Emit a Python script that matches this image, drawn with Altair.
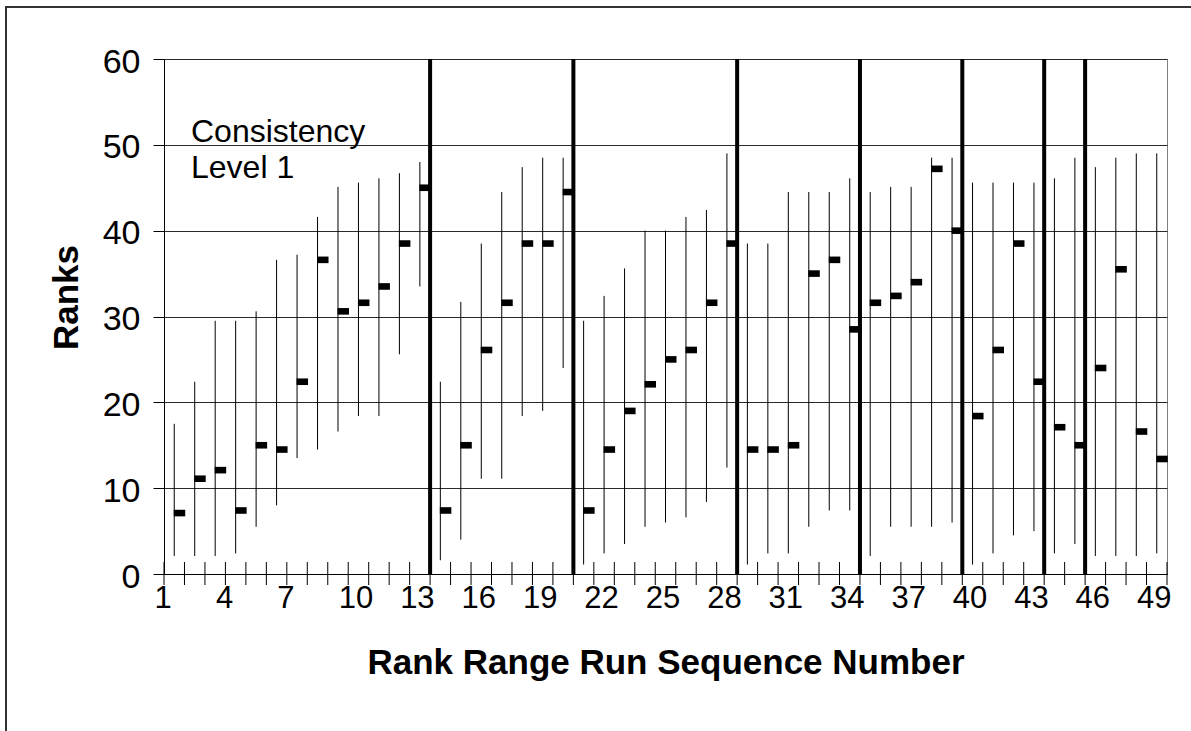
import altair as alt
import pandas as pd

FONT = "Liberation Sans"
PLOT_W = 1003
PLOT_H = 515

# ---- data ----
run_number = list(range(1, 50))
rank_high = [17.5, 22.4, 29.5, 29.5, 30.6, 36.6, 37.2, 41.6, 45.1, 45.6, 46.1, 46.7, 48.0,
             22.4, 31.7, 38.5, 44.5, 47.4, 48.5, 48.5,
             29.5, 32.4, 35.6, 40.0, 40.0, 41.6, 42.4, 49.0,
             38.5, 38.5, 44.5, 44.5, 44.5, 46.1,
             44.5, 45.1, 45.1, 48.5, 48.5,
             45.6, 45.6, 45.6, 45.6,
             46.1, 48.5,
             47.4, 48.5, 49.0, 49.0]
rank_low = [2.1, 2.1, 2.1, 2.4, 5.5, 8.0, 13.5, 14.5, 16.6, 18.4, 18.4, 25.6, 33.5,
            1.6, 4.0, 11.1, 11.1, 18.4, 19.0, 24.0,
            1.1, 2.4, 3.5, 5.5, 6.0, 6.6, 8.4, 12.4,
            1.1, 2.4, 2.4, 5.5, 7.4, 7.4,
            2.1, 5.5, 5.5, 5.5, 6.0,
            1.1, 2.4, 4.5, 5.0,
            2.4, 3.5,
            2.1, 2.1, 2.1, 2.4]
rank_mark = [7.1, 11.1, 12.1, 7.4, 15.0, 14.5, 22.4, 36.6, 30.6, 31.6, 33.5, 38.5, 45.0,
             7.4, 15.0, 26.1, 31.6, 38.5, 38.5, 44.5,
             7.4, 14.5, 19.0, 22.1, 25.0, 26.1, 31.6, 38.5,
             14.5, 14.5, 15.0, 35.0, 36.6, 28.5,
             31.6, 32.4, 34.0, 47.2, 40.0,
             18.4, 26.1, 38.5, 22.4,
             17.1, 15.0,
             24.0, 35.5, 16.6, 13.4]
separators = [13, 20, 28, 34, 39, 43, 45]
x_tick_values = list(range(0, 50))
x_label_text = ["1", "4", "7", "10", "13", "16", "19", "22", "25", "28", "31", "34",
                "37", "40", "43", "46", "49"]
y_tick_values = [0, 10, 20, 30, 40, 50, 60]
note_lines = ["Consistency", "Level 1"]

df = pd.DataFrame({
    "run": run_number,
    "pos": [r - 0.5 for r in run_number],
    "high": rank_high,
    "low": rank_low,
    "mark": rank_mark,
})
sep_df = pd.DataFrame({"sep": separators, "top": [60] * len(separators), "bottom": [0] * len(separators)})
tick_df = pd.DataFrame({"t": x_tick_values})

label_positions = [int(t) - 1 for t in x_label_text]
label_map = "{" + ",".join(f"'{int(t) - 1}':'{t}'" for t in x_label_text) + "}"
label_expr = f"{label_map}[toString(datum.value)] || ''"

x_scale = alt.Scale(domain=[0, 49], nice=False, zero=False)
y_scale = alt.Scale(domain=[0, 60], nice=False, zero=True)

x_axis = alt.Axis(
    values=label_positions, labelExpr=label_expr, labelAlign="left", labelOffset=-10,
    labelFontSize=31, labelPadding=9, labelOverlap=False, labelFlush=False, labelBound=False,
    ticks=False, domainColor="black", grid=False,
    title="Rank Range Run Sequence Number", titleFontSize=35, titleFontWeight="bold",
    titleY=99, titleBaseline="alphabetic", titleColor="black", labelColor="black",
)
y_axis = alt.Axis(
    values=y_tick_values, labelFontSize=34, labelPadding=13, labelOffset=3,
    tickSize=11, tickColor="black", domainColor="black", labelOverlap=False,
    grid=True, gridColor="#2a2a2a", gridOpacity=1,
    title="Ranks", titleFontSize=35, titleFontWeight="bold", titleX=-87, titleY=238,
    titleBaseline="alphabetic", titleColor="black", labelColor="black",
)

ranges = alt.Chart(df).mark_rule(color="black", strokeWidth=1).encode(
    x=alt.X("pos:Q", scale=x_scale, axis=x_axis),
    y=alt.Y("low:Q", scale=y_scale, axis=y_axis),
    y2="high:Q",
)

markers = alt.Chart(df).mark_rect(color="black", xOffset=-0.5, x2Offset=11, yOffset=-3.3, y2Offset=3.3).encode(
    x="pos:Q", x2="pos:Q", y="mark:Q", y2="mark:Q",
)

seps = alt.Chart(sep_df).mark_rule(color="black", strokeWidth=4).encode(
    x="sep:Q", y="bottom:Q", y2="top:Q",
)

# category tick marks crossing the x axis line
cat_ticks = alt.Chart(tick_df).mark_rule(color="black", strokeWidth=1).encode(
    x="t:Q", y=alt.value(PLOT_H + 11), y2=alt.value(PLOT_H - 12),
)

note = alt.Chart(alt.Data(values=[{"txt": note_lines}])).mark_text(
    align="left", baseline="alphabetic", fontSize=32, lineHeight=36, font=FONT, color="black",
).encode(x=alt.value(27), y=alt.value(83), text="txt:N")

frame = alt.Chart(alt.Data(values=[{}])).mark_rect(
    filled=False, stroke="#333333", strokeWidth=2,
).encode(x=alt.value(-158), y=alt.value(-52), x2=alt.value(1060), y2=alt.value(700))

chart = alt.layer(frame, ranges, seps, markers, cat_ticks, note).properties(
    width=PLOT_W, height=PLOT_H,
    autosize=alt.AutoSizeParams(type="none"),
    padding={"left": 164, "top": 59, "right": 24, "bottom": 157},
    background="white",
).configure(font=FONT).configure_axis(labelOverlap=False).configure_view(stroke="#808080", strokeWidth=1)

chart.save("out.html", embed_options={"renderer": "svg", "actions": False})
